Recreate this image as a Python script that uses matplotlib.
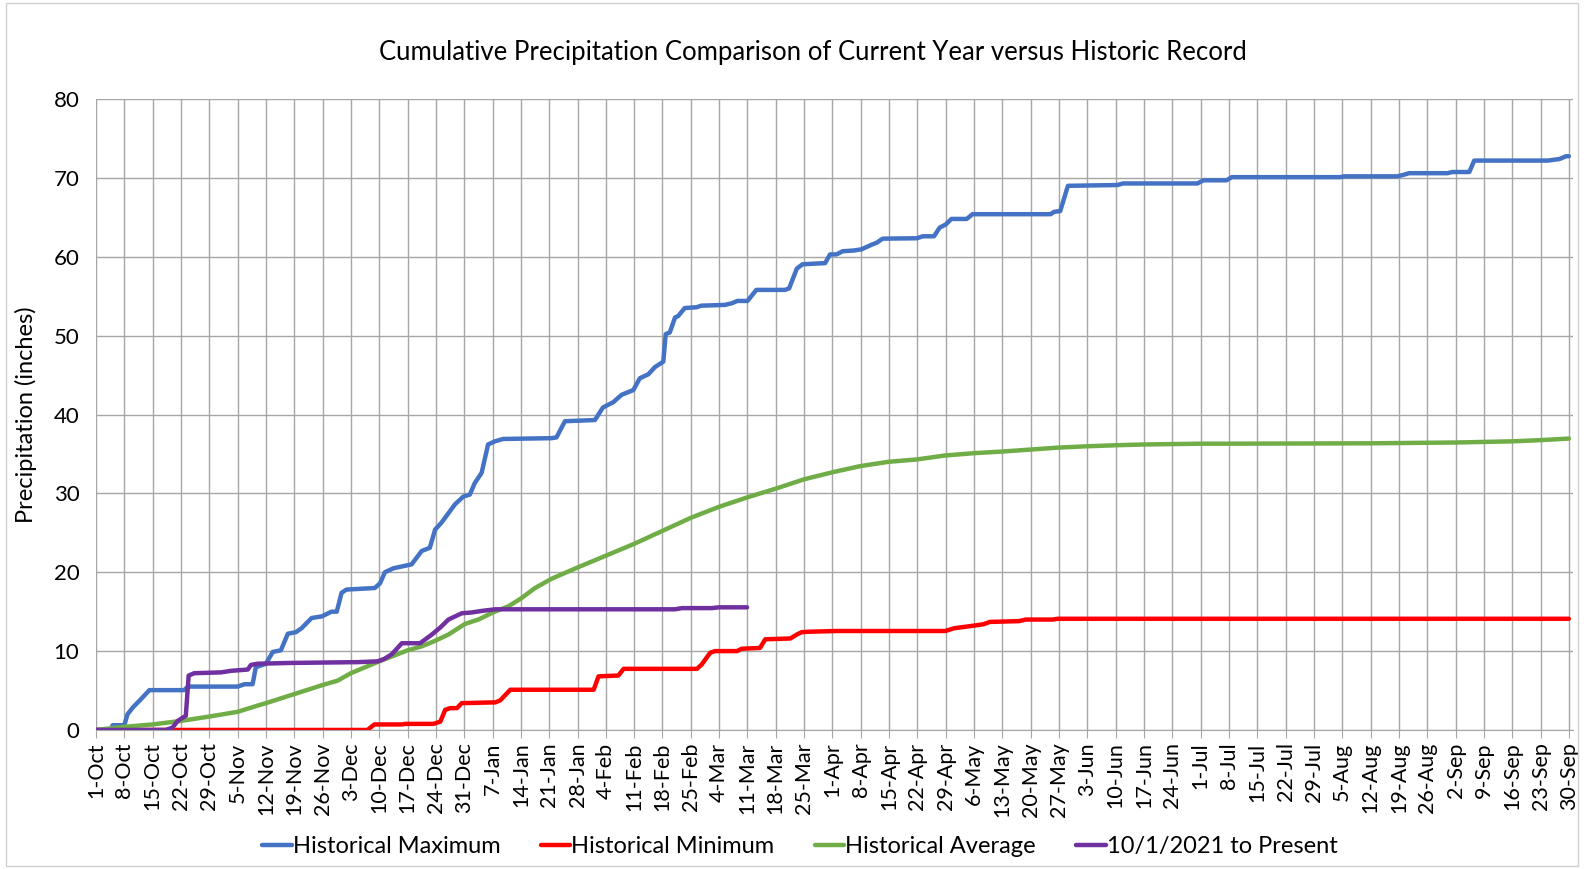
import matplotlib.pyplot as plt
import numpy as np

plt.rcParams['font.family'] = ['Lato', 'DejaVu Sans']

# day index counted from 1-Oct (0) to 30-Sep (364)
tick_labels = ['1-Oct', '8-Oct', '15-Oct', '22-Oct', '29-Oct', '5-Nov', '12-Nov', '19-Nov',
               '26-Nov', '3-Dec', '10-Dec', '17-Dec', '24-Dec', '31-Dec', '7-Jan', '14-Jan',
               '21-Jan', '28-Jan', '4-Feb', '11-Feb', '18-Feb', '25-Feb', '4-Mar', '11-Mar',
               '18-Mar', '25-Mar', '1-Apr', '8-Apr', '15-Apr', '22-Apr', '29-Apr', '6-May',
               '13-May', '20-May', '27-May', '3-Jun', '10-Jun', '17-Jun', '24-Jun', '1-Jul',
               '8-Jul', '15-Jul', '22-Jul', '29-Jul', '5-Aug', '12-Aug', '19-Aug', '26-Aug',
               '2-Sep', '9-Sep', '16-Sep', '23-Sep', '30-Sep']

max_day = [0, 3.7, 4.1, 7, 7.8, 9.1, 11.1, 13.2, 21.8, 22.7, 35, 36.7, 38.7, 39.5, 42, 43.7,
           45.7, 47.4, 49.4, 50.8, 53.3, 55.8, 58.2, 59.5, 60.7, 61.9, 68.9, 70.2, 71.4, 73.5,
           78, 80.5, 82.5, 83.8, 85.4, 88.7, 90.8, 92.4, 93.6, 95.3, 96.9, 98.6, 100.6, 112.6,
           113.8, 115.9, 123.3, 125.3, 127.8, 129.9, 132.8, 134.4, 136.5, 138.1, 140.2, 140.8,
           141.8, 143.1, 143.9, 145.5, 148.4, 149.6, 155.4, 157.1, 158.5, 161, 163.2, 170.3,
           171.3, 173.2, 174.6, 180.2, 181.4, 183, 184.5, 187.3, 189.2, 191.1, 193, 194.4,
           202.9, 204.3, 207.1, 208.5, 210, 211.4, 215.2, 216.6, 235.9, 236.8, 238.3, 240.2,
           252.4, 253.8, 272.2, 273.7, 279.4, 280.7, 307.5, 308.4, 321.6, 323.2, 324.5, 334,
           335.2, 339.4, 340.6, 358.8, 361.7, 363.3, 364]
max_val = [0, 0, 0.6, 0.6, 2.0, 2.85, 3.9, 5.05, 5.05, 5.5, 5.5, 5.8, 5.8, 7.95, 8.4, 9.9,
           10.1, 12.2, 12.4, 12.9, 14.2, 14.4, 15.0, 15.0, 17.4, 17.8, 18.0, 18.6, 20.0, 20.5,
           21.0, 22.7, 23.1, 25.4, 26.3, 28.6, 29.6, 29.85, 31.3, 32.6, 36.2, 36.6, 36.9, 37.0,
           37.1, 39.15, 39.3, 40.9, 41.55, 42.5, 43.1, 44.6, 45.1, 46.0, 46.7, 50.2,
           50.4, 52.3, 52.5, 53.5, 53.6, 53.8, 53.9, 54.1, 54.4, 54.4, 55.8, 55.8,
           56.0, 58.5, 59.05, 59.2, 60.3, 60.3, 60.7, 60.8, 60.95, 61.4, 61.8, 62.3,
           62.35, 62.6, 62.6, 63.7, 64.1, 64.8, 64.8, 65.4, 65.4, 65.7, 65.8, 69.0,
           69.1, 69.3, 69.3, 69.7, 69.7, 70.1, 70.1, 70.2, 70.2, 70.4, 70.6, 70.6,
           70.75, 70.75, 72.2, 72.2, 72.4, 72.75, 72.75]

min_day = [0, 67.1, 68.8, 75.6, 76.4, 83.4, 85.1, 86.3, 87.5, 89.2, 90.4, 98.7, 99.9, 102.4,
           123, 124.2, 129.1, 130.4, 148.5, 149.7, 151.8, 153, 158.4, 159.6, 164.1, 165.4,
           171.6, 173.2, 174.4, 176, 183, 194.5, 209.9, 212.1, 216.5, 219.3, 220.9, 228.1,
           229.8, 236.4, 237.7, 364]
min_val = [0, 0, 0.7, 0.7, 0.77, 0.77, 1.06, 2.55, 2.77, 2.77, 3.4, 3.5, 3.75, 5.1,
           5.1, 6.8, 6.9, 7.75, 7.75, 8.3, 9.8, 10.0, 10.0, 10.3, 10.4, 11.5,
           11.6, 12.1, 12.4, 12.45, 12.55, 12.55, 12.55, 12.9, 13.2, 13.4, 13.7, 13.8,
           14.0, 14.0, 14.1, 14.1]

avg_day = [0, 7, 14, 21, 28, 35, 40, 42, 49, 56, 59.7, 63, 70, 77, 80.5, 83.8, 87.1, 91.2,
           94.5, 98.1, 102, 105.1, 108.5, 112.7, 119, 126, 133, 140, 147, 154, 161, 168,
           175.1, 182.2, 188.8, 195.8, 202.8, 209.8, 217, 223.8, 230.8, 237.7, 244.8, 251.9,
           259, 273, 280, 315, 336, 350, 357, 364]
avg_val = [0, 0.4, 0.7, 1.15, 1.7, 2.3, 3.1, 3.4, 4.55, 5.7, 6.25, 7.2, 8.7, 10.1, 10.6,
           11.3, 12.1, 13.45, 14.0, 14.9, 15.7, 16.7, 18.0, 19.2, 20.6, 22.1, 23.6, 25.25,
           26.9, 28.3, 29.5, 30.6, 31.8, 32.7, 33.45, 34.0, 34.3, 34.8, 35.1, 35.3, 35.55,
           35.8, 35.97, 36.1, 36.2, 36.3, 36.3, 36.35, 36.45, 36.6, 36.75, 36.95]

cur_day = [0, 17.3, 18.9, 20.2, 22.2, 22.9, 24.3, 30.9, 33.4, 37.5, 38.3, 40, 48.2, 64.7,
           69.6, 71.2, 73.1, 75.6, 80.1, 83, 85.1, 87.1, 90.4, 92.9, 95.4, 98.7, 143.1, 144.8,
           152.2, 153.9, 160.9]
cur_val = [0, 0, 0.3, 1.15, 1.8, 6.9, 7.2, 7.3, 7.5, 7.66, 8.25, 8.4, 8.5, 8.6,
           8.7, 9.0, 9.6, 11.0, 11.0, 12.1, 13.0, 14.0, 14.8, 14.9, 15.1, 15.3, 15.3, 15.45,
           15.45, 15.55, 15.55]

fig = plt.figure(figsize=(15.84, 8.69), dpi=100)
ax = fig.add_axes([0.0606, 0.16, 0.9324, 0.726])

grid_c = '#a6a6a6'
kw = dict(lw=3.2, solid_joinstyle='round', solid_capstyle='round')
ax.plot(max_day, max_val, color='#4472C4', label='Historical Maximum', **kw)
ax.plot(min_day, min_val, color='#FF0000', label='Historical Minimum', **kw)
ax.plot(avg_day, avg_val, color='#70AD47', label='Historical Average', **kw)
ax.plot(cur_day, cur_val, color='#7030A0', label='10/1/2021 to Present', **kw)

ax.set_xlim(0, 365)
ax.set_ylim(0, 80)
ax.set_xticks(np.arange(0, 365, 7))
ax.set_xticklabels(tick_labels, rotation=90, fontsize=15.5)
ax.set_yticks(np.arange(0, 81, 10))
ax.tick_params(axis='y', labelsize=16, length=0, pad=12)
ax.tick_params(axis='x', length=6, color=grid_c, pad=3)
ax.grid(True, color=grid_c, lw=1)
ax.set_axisbelow(True)
for s in ['top', 'right', 'left']:
    ax.spines[s].set_visible(False)
ax.spines['bottom'].set_color(grid_c)

ax.set_ylabel('Precipitation (inches)', fontsize=17, labelpad=12)
fig.text(0.513, 0.94, 'Cumulative Precipitation Comparison of Current Year versus Historic Record',
         ha='center', va='center', fontsize=18.5)

fig.legend(loc='center', bbox_to_anchor=(0.505, 0.026), ncol=4, frameon=False, fontsize=17,
           handlelength=1.25, handletextpad=0.05, columnspacing=1.7)

fig.patches.append(plt.Rectangle((0.004, 0.004), 0.992, 0.992, transform=fig.transFigure,
                                 fill=False, edgecolor='#d0d0d0', lw=1))

fig.savefig('out.png', dpi=100)
